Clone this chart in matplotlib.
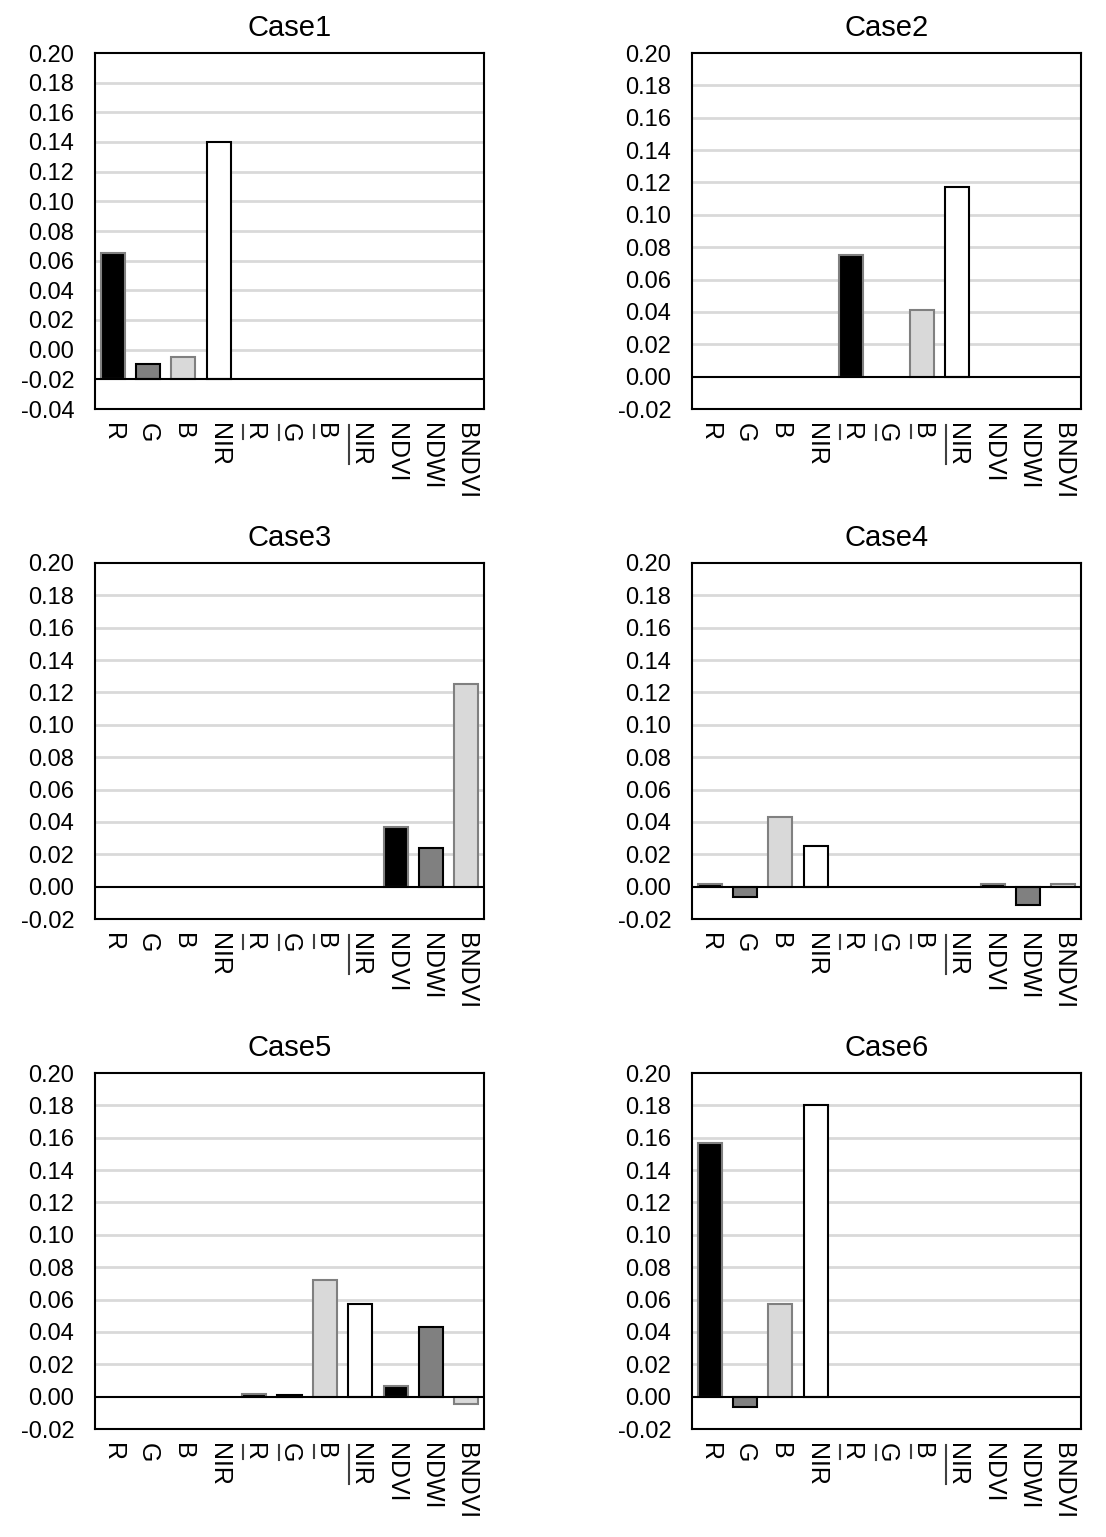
import matplotlib
matplotlib.use('Agg')
import matplotlib.pyplot as plt
import numpy as np

plt.rcParams['font.family'] = ['Liberation Sans', 'DejaVu Sans']

# -----------------------------
# Data
# -----------------------------
labels = ['R', 'G', 'B', 'NIR', 'R', 'G', 'B', 'NIR', 'NDVI', 'NDWI', 'BNDVI']
underlined = [False, False, False, False, True, True, True, True, False, False, False]
nan = np.nan

case1 = [0.065, -0.0097, -0.0052, 0.140, nan, nan, nan, nan, nan, nan, nan]
case2 = [nan, nan, nan, nan, 0.075, nan, 0.041, 0.117, nan, nan, nan]
case3 = [nan, nan, nan, nan, nan, nan, nan, nan, 0.037, 0.024, 0.125]
case4 = [0.0018, -0.0062, 0.043, 0.025, nan, nan, nan, nan, 0.0018, -0.0112, 0.0015]
case5 = [nan, nan, nan, nan, 0.0018, 0.001, 0.072, 0.057, 0.0065, 0.043, -0.0048]
case6 = [0.157, -0.0067, 0.057, 0.180, nan, nan, nan, nan, nan, nan, nan]

titles = ['Case1', 'Case2', 'Case3', 'Case4', 'Case5', 'Case6']
cases = [case1, case2, case3, case4, case5, case6]
# horizontal axis crossing (Excel style)
baselines = [-0.02, 0, 0, 0, 0, 0]
ymins = [-0.04, -0.02, -0.02, -0.02, -0.02, -0.02]

fills = ['#000000', '#808080', '#d9d9d9', '#ffffff']
edges = ['#808080', '#000000', '#808080', '#000000']

# -----------------------------
# Plot
# -----------------------------
fig = plt.figure(figsize=(11.06, 15.37), dpi=100)
W, H = 1106, 1537
col_x = [95, 692]
row_y = [53, 563, 1073]
aw, ah = 389, 356

x = np.arange(len(labels))
axes = []
for i, (vals, title) in enumerate(zip(cases, titles)):
    r, c = divmod(i, 2)
    ax = fig.add_axes([col_x[c] / W, 1 - (row_y[r] + ah) / H, aw / W, ah / H])
    axes.append(ax)
    base = baselines[i]
    ymin = ymins[i]
    ticks = np.round(np.arange(ymin, 0.2001, 0.02), 2)
    for t in ticks:
        if ymin < t < 0.2 and t != base:
            ax.axhline(t, color='#d9d9d9', lw=2, zorder=0)
    for j, v in enumerate(vals):
        if np.isnan(v):
            continue
        ax.bar(x[j], v - base, bottom=base, width=0.68,
               color=fills[j % 4], edgecolor=edges[j % 4], linewidth=1.5, zorder=2)
    ax.axhline(base, color='black', lw=1.5, zorder=3)
    ax.set_xlim(-0.5, len(labels) - 0.5)
    ax.set_ylim(ymin, 0.20)
    ax.set_yticks(ticks)
    ax.set_yticklabels(['%.2f' % t for t in ticks], fontsize=17)
    ax.set_xticks(x)
    ax.set_xticklabels(labels, rotation=-90, fontsize=18, va='top', ha='center')
    ax.tick_params(axis='x', length=0, pad=10)
    ax.tick_params(axis='y', length=0, pad=15)
    for s in ax.spines.values():
        s.set_linewidth(1.5)
    ax.set_title(title, fontsize=21, pad=12)

# underline the rotated labels (line sits on the baseline side = left)
fig.canvas.draw()
inv = fig.transFigure.inverted()
for ax in axes:
    for tl, ul in zip(ax.get_xticklabels(), underlined):
        if not ul:
            continue
        bb = tl.get_window_extent()
        (x0, y0), (x1, y1) = inv.transform([(bb.x0 + 1, bb.y0 + 2), (bb.x0 + 1, bb.y1 - 2)])
        fig.add_artist(plt.Line2D([x0, x1], [y0, y1], transform=fig.transFigure,
                                  color='#404040', lw=1.5))

plt.savefig('out.png', dpi=100)
plt.close()
